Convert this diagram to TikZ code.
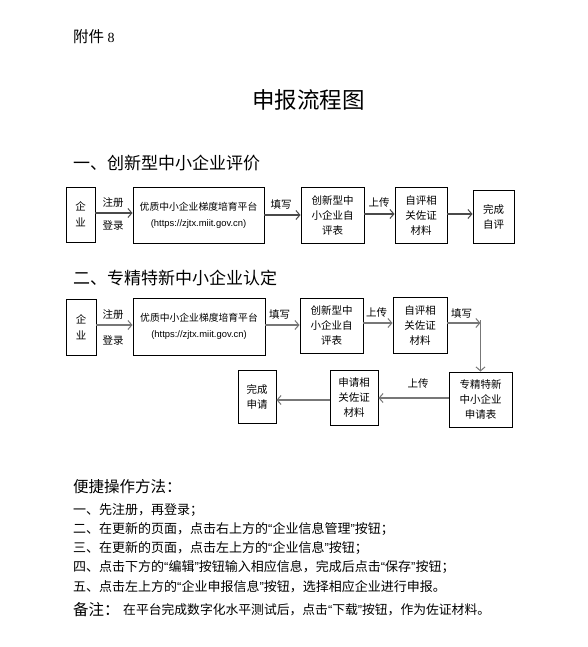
\documentclass[tikz,border=0pt]{standalone}
\usepackage{fontspec}
\setmainfont{Liberation Serif}
\newfontfamily\cjk{Noto Sans CJK SC}
\newfontfamily\lsans{Liberation Sans}
\usetikzlibrary{arrows.meta}
\definecolor{arrA}{HTML}{4A4A4A}
\definecolor{arrB}{HTML}{777777}
\newcommand{\oq}{{\lsans\char"201C}}
\newcommand{\cq}{{\lsans\char"201D}}
\tikzset{
  bx/.style={draw=black, line width=0.9pt, inner sep=0pt, align=center,
    font=\cjk\fontsize{10.5}{15}\selectfont},
  arrow1/.style={draw=arrA, line width=1.1pt,
    -{Straight Barb[length=4pt,width=9pt,line width=1pt]}},
  arrow2/.style={draw=arrB, line width=1.2pt,
    -{Straight Barb[length=4pt,width=9pt,line width=1pt]}},
  plainline/.style={draw=arrB, line width=1.2pt},
  lbl/.style={font=\cjk\fontsize{10.5}{12}\selectfont, inner sep=0pt},
  txt/.style={anchor=west, inner sep=0pt},
}
\begin{document}
\begin{tikzpicture}[x=1pt,y=-1pt]
\useasboundingbox[fill=white] (0,0) rectangle (587,647);

% headings
\node[txt] (att) at (73,37) {\cjk\fontsize{15.5}{18}\selectfont 附件 {\rmfamily\fontsize{14}{18}\selectfont 8}};
\node[inner sep=0pt] (title) at (308.5,100) {\cjk\fontsize{22.5}{26}\selectfont 申报流程图};
\node[txt] (h1) at (73,163) {\cjk\fontsize{17}{20}\selectfont 一、创新型中小企业评价};
\node[txt] (h2) at (73,278) {\cjk\fontsize{17}{20}\selectfont 二、专精特新中小企业认定};

% ---------- row 1 ----------
\node[bx, minimum width=29pt, minimum height=55pt] (e1) at (80.5,214.5) {企\\[1pt]业};
\node[bx, minimum width=131pt, minimum height=56pt, font=\cjk\fontsize{9.8}{15}\selectfont] (p1) at (198.5,215)
  {优质中小企业梯度培育平台\\[1pt]{\lsans\fontsize{9.4}{15}\selectfont (https://zjtx.miit.gov.cn)}};
\node[bx, minimum width=63pt, minimum height=56pt] (c1) at (332.5,215) {创新型中\\小企业自\\评表};
\node[bx, minimum width=52pt, minimum height=56pt] (m1) at (421,215) {自评相\\关佐证\\材料};
\node[bx, minimum width=41pt, minimum height=53pt] (f1) at (493.5,216.5) {完成\\自评};

\draw[arrow1] (e1.east |- 0,213) -- (p1.west |- 0,213);
\draw[arrow1] (p1.east |- 0,215) -- (c1.west |- 0,215);
\draw[arrow1] (c1.east |- 0,214) -- (m1.west |- 0,214);
\draw[arrow1] (m1.east |- 0,214) -- (f1.west |- 0,214);

\node[lbl] (l1a) at (113,202.5) {注册};
\node[lbl] (l1b) at (113,225.5) {登录};
\node[lbl] (l1c) at (281,204.5) {填写};
\node[lbl] (l1d) at (379,203) {上传};

% ---------- row 2 ----------
\node[bx, minimum width=30pt, minimum height=56pt] (e2) at (81,327) {企\\[1pt]业};
\node[bx, minimum width=132pt, minimum height=57pt, font=\cjk\fontsize{9.8}{15}\selectfont] (p2) at (199,326.5)
  {优质中小企业梯度培育平台\\[1pt]{\lsans\fontsize{9.4}{15}\selectfont (https://zjtx.miit.gov.cn)}};
\node[bx, minimum width=63pt, minimum height=55pt] (c2) at (331.5,325.5) {创新型中\\小企业自\\评表};
\node[bx, minimum width=54pt, minimum height=56pt] (m2) at (420,325) {自评相\\关佐证\\材料};
\node[bx, minimum width=63pt, minimum height=55pt] (s2) at (480.5,399.5) {专精特新\\中小企业\\申请表};
\node[bx, minimum width=48pt, minimum height=55pt] (a2) at (354,397.5) {申请相\\关佐证\\材料};
\node[bx, minimum width=38pt, minimum height=53pt] (d2) at (257,396.5) {完成\\申请};

\coordinate (corner) at (480.5,323);
\draw[arrow2] (e2.east |- 0,325) -- (p2.west |- 0,325);
\draw[arrow2] (p2.east |- 0,325) -- (c2.west |- 0,325);
\draw[arrow2] (c2.east |- 0,323) -- (m2.west |- 0,323);
\draw[arrow2] (m2.east |- corner) -- (corner);
\draw[arrow2] ([yshift=3pt]corner) -- (s2.north);
\draw[arrow2] (s2.west |- 0,398) -- (a2.east |- 0,398);
\draw[arrow2] (a2.west |- 0,400) -- (d2.east |- 0,400);

\node[lbl] (l2a) at (113,315) {注册};
\node[lbl] (l2b) at (113,340.5) {登录};
\node[lbl] (l2c) at (279.5,315) {填写};
\node[lbl] (l2d) at (376.5,312.5) {上传};
\node[lbl] (l2e) at (461.5,314) {填写};
\node[lbl] (l2f) at (418,384) {上传};

% ---------- instructions ----------
\node[txt] (q0) at (73,487) {\cjk\fontsize{15.5}{18}\selectfont 便捷操作方法：};
\node[txt] (q1) at (73,510) {\cjk\fontsize{13}{15}\selectfont 一、先注册，再登录；};
\node[txt] (q2) at (73,529) {\cjk\fontsize{13}{15}\selectfont 二、在更新的页面，点击右上方的\oq 企业信息管理\cq 按钮；};
\node[txt] (q3) at (73,548) {\cjk\fontsize{13}{15}\selectfont 三、在更新的页面，点击左上方的\oq 企业信息\cq 按钮；};
\node[txt] (q4) at (73,567) {\cjk\fontsize{13}{15}\selectfont 四、点击下方的\oq 编辑\cq 按钮输入相应信息，完成后点击\oq 保存\cq 按钮；};
\node[txt] (q5) at (73,587) {\cjk\fontsize{13}{15}\selectfont 五、点击左上方的\oq 企业申报信息\cq 按钮，选择相应企业进行申报。};
\node[txt] (n0) at (73,610) {\cjk\fontsize{15.5}{18}\selectfont 备注：};
\node[txt] (n1) at (123,610) {\cjk\fontsize{12.8}{15}\selectfont 在平台完成数字化水平测试后，点击\oq 下载\cq 按钮，作为佐证材料。};
\end{tikzpicture}
\end{document}
